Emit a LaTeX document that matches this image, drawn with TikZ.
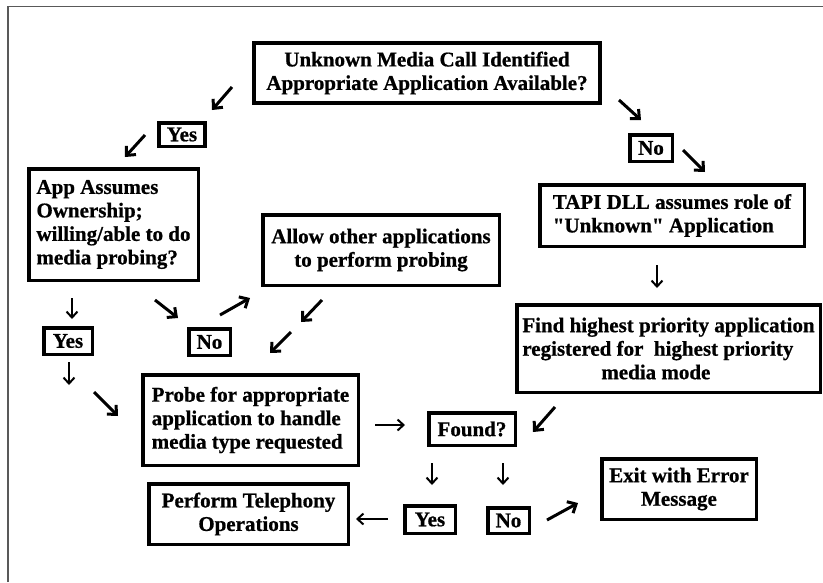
\documentclass[tikz,border=0pt]{standalone}
\usepackage{fontspec}
\setmainfont[BoldFeatures={FakeBold=0.8}]{Liberation Serif}
\usetikzlibrary{arrows.meta}
\newcommand{\sq}{\XeTeXglyph\XeTeXglyphindex "quotedbl"\relax}
\tikzset{
  box/.style={draw, line width=3.5pt, inner sep=0pt, align=center,
    font=\fontsize{21}{23.5}\selectfont\bfseries},
  lbox/.style={box, align=left},
  darr/.style={line width=3pt, -{Straight Barb[length=7pt,width=13pt,line width=3pt]}},
  sarr/.style={line width=2pt, -{Straight Barb[length=6pt,width=11pt,line width=2pt]}},
}
\begin{document}
\begin{tikzpicture}[x=1pt,y=-1pt]
\useasboundingbox (0,0) rectangle (823,582);
\draw[black!65, line width=1.5pt] (8,582) -- (8,6.5) -- (823,6.5);

\node[box, minimum width=346pt, minimum height=60pt] (top) at (427,73)
  {Unknown Media Call Identified\\Appropriate Application Available?};
\node[box, minimum width=46pt, minimum height=23.5pt] (yes1) at (182,134.5) {Yes};
\node[box, minimum width=42.5pt, minimum height=26.5pt] (no1) at (651,148) {No};
\node[lbox, minimum width=169.5pt, minimum height=111.5pt] (app) at (113.5,224.5)
  {App Assumes\\Ownership;\\willing/able to do\\media probing?};
\node[box, minimum width=236.5pt, minimum height=70.5pt] (allow) at (381,250)
  {Allow other applications\\to perform probing};
\node[lbox, minimum width=264.5pt, minimum height=61.5pt] (tapi) at (672,215.5)
  {TAPI DLL assumes role of\\\sq Unknown\sq{} Application};
\node[lbox, minimum width=303.5pt, minimum height=87.5pt] (find) at (668.5,348.5)
  {Find highest priority application\\registered for\ \ highest priority\\\hspace*{79pt}media mode};
\node[box, minimum width=48.5pt, minimum height=26.5pt] (yes3) at (68,341) {Yes};
\node[box, minimum width=41.5pt, minimum height=26.5pt] (no3) at (209.5,342) {No};
\node[lbox, minimum width=215.5pt, minimum height=90.5pt] (probe) at (250.5,420)
  {Probe for appropriate\\application to handle\\media type requested};
\node[box, minimum width=86.5pt, minimum height=32.5pt] (found) at (472,429) {Found?};
\node[box, minimum width=199.5pt, minimum height=60.5pt] (perf) at (248.5,514)
  {Perform Telephony\\Operations};
\node[box, minimum width=50.5pt, minimum height=27.5pt] (yes2) at (430,519.5) {Yes};
\node[box, minimum width=41.5pt, minimum height=25.5pt] (no2) at (508.5,520.5) {No};
\node[box, minimum width=154.5pt, minimum height=60.5pt] (exit) at (679,489)
  {Exit with Error\\Message};

% arrow end points
\coordinate (a1s) at (232,87);  \coordinate (a1e) at (212,110);
\coordinate (a2s) at (145,135); \coordinate (a2e) at (125,157);
\coordinate (a3s) at (619,100); \coordinate (a3e) at (641,120);
\coordinate (a4s) at (683,150); \coordinate (a4e) at (705,172);
\coordinate (a5s) at (657,265); \coordinate (a5e) at (657,288);
\coordinate (a6s) at (555,407); \coordinate (a6e) at (533,432);
\coordinate (a7s) at (375,425); \coordinate (a7e) at (405,425);
\coordinate (a8s) at (432,463); \coordinate (a8e) at (432,485);
\coordinate (a9s) at (503,463); \coordinate (a9e) at (503,485);
\coordinate (a10s) at (388,519); \coordinate (a10e) at (356,519);
\coordinate (a11s) at (547,520); \coordinate (a11e) at (578,503);
\coordinate (a12s) at (72,298); \coordinate (a12e) at (72,319);
\coordinate (a13s) at (69,362); \coordinate (a13e) at (69,385);
\coordinate (a14s) at (94,392); \coordinate (a14e) at (118,416);
\coordinate (a15s) at (155,300); \coordinate (a15e) at (178,318);
\coordinate (a16s) at (220,315); \coordinate (a16e) at (250,298);
\coordinate (a17s) at (322,300); \coordinate (a17e) at (301,322);
\coordinate (a18s) at (291,332); \coordinate (a18e) at (270,353);

\draw[darr] (a1s) -- (a1e);
\draw[darr] (a2s) -- (a2e);
\draw[darr] (a3s) -- (a3e);
\draw[darr] (a4s) -- (a4e);
\draw[sarr] (a5s) -- (a5e);
\draw[darr] (a6s) -- (a6e);
\draw[sarr] (a7s) -- (a7e);
\draw[sarr] (a8s) -- (a8e);
\draw[sarr] (a9s) -- (a9e);
\draw[sarr] (a10s) -- (a10e);
\draw[darr] (a11s) -- (a11e);
\draw[sarr] (a12s) -- (a12e);
\draw[sarr] (a13s) -- (a13e);
\draw[darr] (a14s) -- (a14e);
\draw[darr] (a15s) -- (a15e);
\draw[darr] (a16s) -- (a16e);
\draw[darr] (a17s) -- (a17e);
\draw[darr] (a18s) -- (a18e);
\end{tikzpicture}
\end{document}
